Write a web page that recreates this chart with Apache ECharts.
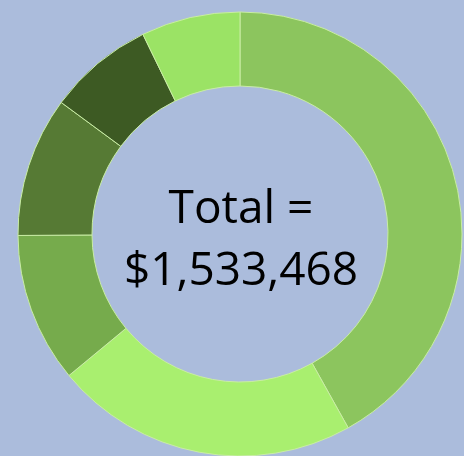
<!DOCTYPE html>
<html>
<head>
<meta charset="utf-8">
<script src="https://cdn.jsdelivr.net/npm/echarts@6/dist/echarts.min.js"></script>
<style>
  html, body { margin: 0; padding: 0; background: #abbcdc; }
  #chart { width: 464px; height: 456px; }
</style>
</head>
<body>
<div id="chart"></div>
<script>
// segments, clockwise from 12 o'clock
const segmentNames = ['A', 'B', 'C', 'D', 'E', 'F'];
const segmentValues = [642500, 338900, 167100, 156400, 118100, 110468];
const segmentColors = ['#8cc55e', '#a9ef6f', '#76ab4c', '#567a34', '#3d5a23', '#9be365'];
const totalLines = ['Total =', '$1,533,468'];

const chart = echarts.init(document.getElementById('chart'));

const centerText = (text, y) => ({
  type: 'text',
  x: 241,
  y: y,
  style: {
    text: text,
    fill: '#000',
    font: '46px "Open Sans"',
    align: 'center',
    verticalAlign: 'middle'
  }
});

const option = {
  backgroundColor: '#abbcdc',
  animation: false,
  graphic: [
    centerText(totalLines[0], 210),
    centerText(totalLines[1], 272)
  ],
  series: [
    {
      type: 'pie',
      center: [240, 234],
      radius: [148, 222],
      startAngle: 90,
      clockwise: true,
      label: { show: false },
      labelLine: { show: false },
      itemStyle: {
        borderColor: '#c9eda4',
        borderWidth: 1
      },
      data: segmentValues.map((v, i) => ({
        name: segmentNames[i],
        value: v,
        itemStyle: { color: segmentColors[i] }
      }))
    }
  ]
};

chart.setOption(option);
</script>
</body>
</html>
